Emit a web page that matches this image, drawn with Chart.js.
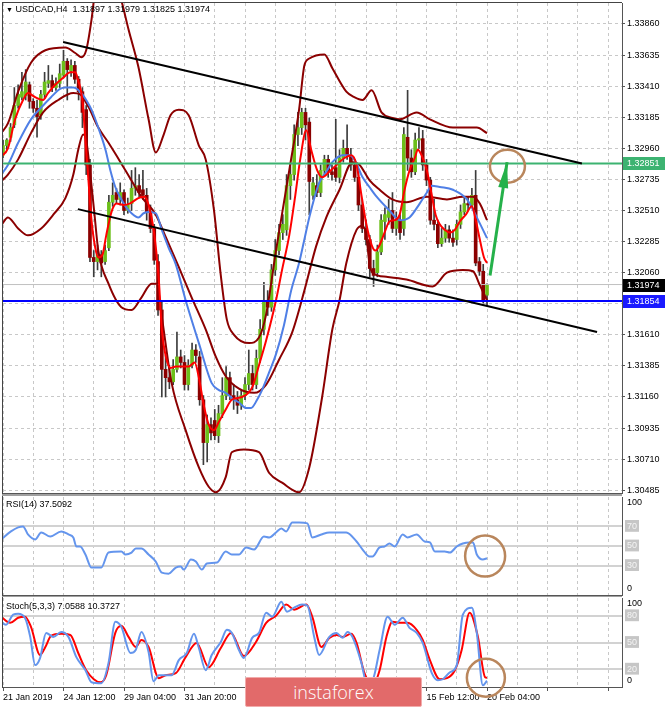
<!DOCTYPE html>
<html>
<head>
<meta charset="utf-8">
<title>USDCAD,H4</title>
<script src="https://cdn.jsdelivr.net/npm/chart.js@4.4.1/dist/chart.umd.min.js"></script>
<style>
  html, body { margin: 0; padding: 0; background: #fff; }
  #wrap { position: relative; width: 665px; height: 708px; overflow: hidden; font-family: "Liberation Sans", Arial, sans-serif; }
  #wrap canvas { position: absolute; left: 0; }
  .rule { position: absolute; }
  .caption { position: absolute; left: 6px; font-size: 9px; line-height: 11px; color: #000; white-space: nowrap; }
  #brand { position: absolute; left: 245px; top: 677px; width: 175px; height: 28px; background: #e26a6a; border: 1px solid #f2abab; border-radius: 2px;
           color: #fff; font: 300 18px "Open Sans", sans-serif; line-height: 28px; text-align: center; }
</style>
</head>
<body>
<div id="wrap">
  <canvas id="mainChart" width="665" height="495" style="top:0"></canvas>
  <canvas id="rsiChart" width="665" height="100" style="top:496px"></canvas>
  <canvas id="stochChart" width="665" height="111" style="top:597px"></canvas>
  <div class="rule" style="left:2px;top:2px;width:620px;height:1px;background:#444"></div>
  <div class="rule" style="left:2px;top:2px;width:1px;height:686px;background:#444"></div>
  <div class="rule" style="left:2px;top:494px;width:620px;height:2px;background:#a0a0a0"></div>
  <div class="rule" style="left:2px;top:596px;width:620px;height:1px;background:#a0a0a0"></div>
  <div class="caption" style="top:4px"><span style="font-size:7px">&#9660;</span> USDCAD,H4&nbsp; 1.31897 1.31979 1.31825 1.31974</div>
  <div class="caption" style="top:499px">RSI(14) 37.5092</div>
  <div class="caption" style="top:601px">Stoch(5,3,3) 7.0588 10.3727</div>
  <div id="brand">instaforex</div>
</div>
<script>
// time axis: one unit = one H4 bar, label every 16 bars
const timeLabels = ['21 Jan 2019', '24 Jan 12:00', '29 Jan 04:00', '31 Jan 20:00', '5 Feb 12:00',
                    '8 Feb 04:00', '12 Feb 20:00', '15 Feb 12:00', '20 Feb 04:00'];
const priceTicks = [1.30485, 1.30710, 1.30935, 1.31160, 1.31385, 1.31610, 1.31835, 1.32060,
                    1.32285, 1.32510, 1.32735, 1.32960, 1.33185, 1.33410, 1.33635, 1.33860];
const hiddenPriceTicks = [1.31835];

const barOpen = [1.3291,1.3298,1.3304,1.3313,1.3327,1.3333,1.3334,1.3342,1.3330,1.3325,
  1.3320,1.3335,1.3343,1.3345,1.3340,1.3343,1.3349,1.3359,1.3352,1.3356,
  1.3346,1.3337,1.3324,1.3284,1.3217,1.3214,1.3219,1.3214,1.3224,1.3257,
  1.3264,1.3259,1.3264,1.3251,1.3256,1.3267,1.3269,1.3266,1.3262,1.3250,
  1.3238,1.3214,1.3179,1.3136,1.3130,1.3127,1.3136,1.3145,1.3141,1.3125,
  1.3139,1.3150,1.3145,1.3114,1.3083,1.3096,1.3099,1.3088,1.3104,1.3117,
  1.3130,1.3117,1.3114,1.3110,1.3117,1.3125,1.3133,1.3125,1.3144,1.3165,
  1.3186,1.3181,1.3208,1.3222,1.3235,1.3237,1.3269,1.3277,1.3306,1.3311,
  1.3322,1.3315,1.3262,1.3269,1.3264,1.3280,1.3288,1.3279,1.3282,1.3275,
  1.3289,1.3296,1.3291,1.3284,1.3275,1.3255,1.3238,1.3230,1.3209,1.3206,
  1.3221,1.3243,1.3246,1.3251,1.3238,1.3244,1.3238,1.3304,1.3289,1.3279,
  1.3302,1.3303,1.3284,1.3273,1.3244,1.3241,1.3227,1.3231,1.3237,1.3231,
  1.3230,1.3241,1.3250,1.3256,1.3255,1.3262,1.3214,1.3207,1.31897];
const barHigh = [1.3302,1.3303,1.3314,1.3340,1.3342,1.3351,1.3353,1.3344,1.3332,1.3331,
  1.3338,1.3351,1.3356,1.3349,1.3347,1.3357,1.3367,1.3361,1.3360,1.3359,
  1.3348,1.3340,1.3327,1.3288,1.3222,1.3226,1.3222,1.3226,1.3262,1.3271,
  1.3267,1.3271,1.3266,1.3260,1.3280,1.3282,1.3277,1.3280,1.3267,1.3255,
  1.3241,1.3219,1.3186,1.3146,1.3139,1.3143,1.3163,1.3150,1.3146,1.3143,
  1.3155,1.3154,1.3149,1.3117,1.3103,1.3101,1.3107,1.3110,1.3130,1.3138,
  1.3134,1.3125,1.3120,1.3121,1.3130,1.3150,1.3139,1.3150,1.3172,1.3199,
  1.3193,1.3212,1.3230,1.3241,1.3248,1.3277,1.3284,1.3313,1.3322,1.3325,
  1.3325,1.3318,1.3275,1.3277,1.3284,1.3291,1.3291,1.3284,1.3317,1.3295,
  1.3302,1.3313,1.3296,1.3288,1.3279,1.3259,1.3244,1.3233,1.3215,1.3226,
  1.3248,1.3253,1.3259,1.3264,1.3250,1.3248,1.3311,1.3338,1.3295,1.3307,
  1.3311,1.3309,1.3288,1.3275,1.3259,1.3244,1.3238,1.3241,1.3240,1.3237,
  1.3244,1.3255,1.3260,1.3261,1.3267,1.3280,1.3217,1.3212,1.31979];
const barLow = [1.3289,1.3295,1.3301,1.3311,1.3325,1.3331,1.3331,1.3325,1.3322,1.3304,
  1.3317,1.3332,1.3340,1.3337,1.3338,1.3340,1.3347,1.3331,1.3348,1.3343,
  1.3331,1.3311,1.3277,1.3214,1.3203,1.3208,1.3203,1.3212,1.3222,1.3254,
  1.3256,1.3255,1.3248,1.3249,1.3251,1.3262,1.3261,1.3259,1.3244,1.3235,
  1.3212,1.3175,1.3116,1.3116,1.3122,1.3125,1.3134,1.3137,1.3121,1.3121,
  1.3137,1.3141,1.3110,1.3067,1.3069,1.3085,1.3085,1.3083,1.3101,1.3114,
  1.3114,1.3107,1.3104,1.3107,1.3114,1.3121,1.3121,1.3122,1.3141,1.3161,
  1.3175,1.3178,1.3204,1.3219,1.3230,1.3233,1.3259,1.3273,1.3298,1.3306,
  1.3302,1.3248,1.3259,1.3261,1.3261,1.3277,1.3275,1.3273,1.3272,1.3271,
  1.3286,1.3288,1.3280,1.3272,1.3251,1.3235,1.3226,1.3203,1.3196,1.3203,
  1.3219,1.3230,1.3241,1.3235,1.3233,1.3230,1.3233,1.3280,1.3275,1.3277,
  1.3296,1.3280,1.3269,1.3241,1.3237,1.3224,1.3225,1.3228,1.3228,1.3225,
  1.3226,1.3238,1.3248,1.3251,1.3253,1.3211,1.3204,1.3184,1.31825];
const barClose = [1.3298,1.3302,1.3311,1.3327,1.3335,1.3337,1.3344,1.3330,1.3325,1.3319,
  1.3335,1.3344,1.3345,1.3340,1.3343,1.3350,1.3359,1.3353,1.3356,1.3346,
  1.3337,1.3322,1.3284,1.3217,1.3214,1.3219,1.3213,1.3222,1.3257,1.3262,
  1.3259,1.3264,1.3251,1.3255,1.3267,1.3269,1.3264,1.3262,1.3250,1.3238,
  1.3215,1.3179,1.3136,1.3130,1.3127,1.3136,1.3145,1.3141,1.3125,1.3139,
  1.3150,1.3146,1.3114,1.3083,1.3096,1.3090,1.3088,1.3104,1.3117,1.3130,
  1.3117,1.3114,1.3110,1.3117,1.3125,1.3133,1.3125,1.3144,1.3165,1.3186,
  1.3181,1.3208,1.3222,1.3235,1.3241,1.3269,1.3277,1.3306,1.3311,1.3322,
  1.3313,1.3272,1.3271,1.3264,1.3280,1.3288,1.3279,1.3277,1.3275,1.3289,
  1.3296,1.3291,1.3284,1.3275,1.3255,1.3238,1.3230,1.3209,1.3204,1.3221,
  1.3244,1.3248,1.3251,1.3238,1.3244,1.3235,1.3306,1.3289,1.3279,1.3302,
  1.3303,1.3284,1.3273,1.3244,1.3241,1.3227,1.3231,1.3237,1.3231,1.3228,
  1.3241,1.3250,1.3256,1.3255,1.3262,1.3213,1.3207,1.3186,1.31974];

// indicator lines as [bar, value]
const maFast = [[-0.5,1.3290],[1.3,1.3296],[3.2,1.3317],[5.3,1.3331],[6.6,1.3336],[8.5,1.3333],[10.6,1.3331],[11.9,1.3336],
  [13.8,1.3342],[15.9,1.3347],[17.8,1.3351],[19.1,1.3351],[19.9,1.3345],[21.0,1.3331],[21.8,1.3302],[22.6,1.3273],
  [23.4,1.3244],[24.4,1.3224],[25.2,1.3217],[26.3,1.3219],[27.3,1.3233],[28.7,1.3250],[30.0,1.3256],[31.9,1.3255],
  [33.5,1.3256],[35.8,1.3260],[37.4,1.3261],[38.5,1.3255],[39.8,1.3238],[41.2,1.3201],[42.0,1.3165],[43.0,1.3146],
  [44.3,1.3137],[45.7,1.3138],[47.3,1.3138],[49.1,1.3138],[50.7,1.3141],[51.8,1.3130],[53.1,1.3110],[54.4,1.3096],
  [55.8,1.3092],[57.1,1.3098],[58.9,1.3107],[60.5,1.3114],[63.2,1.3116],[65.9,1.3123],[67.7,1.3139],[69.6,1.3157],
  [72.2,1.3186],[73.8,1.3208],[75.7,1.3233],[77.3,1.3262],[78.6,1.3288],[80.2,1.3309],[81.5,1.3295],[83.1,1.3280],
  [84.4,1.3275],[86.3,1.3279],[88.2,1.3284],[90.3,1.3289],[92.1,1.3291],[93.5,1.3284],[94.8,1.3262],[96.1,1.3241],
  [97.5,1.3226],[98.5,1.3222],[99.6,1.3226],[100.9,1.3235],[102.2,1.3243],[103.6,1.3244],[104.9,1.3248],[106.2,1.3266],
  [107.5,1.3280],[108.9,1.3289],[109.7,1.3295],[110.7,1.3291],[112.1,1.3280],[113.4,1.3262],[114.4,1.3248],[115.5,1.3241],
  [116.8,1.3237],[118.2,1.3235],[119.5,1.3237],[120.8,1.3243],[122.4,1.3248],[124.0,1.3254],[125.1,1.3243],[126.1,1.3230],
  [127.2,1.3217],[128.0,1.3213]];
const maSlow = [[-0.5,1.3277],[1.3,1.3284],[4.0,1.3300],[7.4,1.3317],[10.6,1.3327],[12.7,1.3333],[15.1,1.3339],[16.5,1.3340],
  [18.6,1.3340],[20.4,1.3337],[22.0,1.3331],[23.4,1.3324],[25.2,1.3311],[27.1,1.3295],[28.4,1.3280],[29.7,1.3268],
  [31.1,1.3260],[32.4,1.3254],[34.0,1.3249],[35.8,1.3246],[37.2,1.3249],[38.5,1.3250],[40.4,1.3249],[42.0,1.3237],
  [43.8,1.3224],[45.7,1.3212],[48.3,1.3186],[51.8,1.3155],[55.2,1.3126],[57.1,1.3121],[58.9,1.3119],[61.1,1.3114],
  [62.4,1.3112],[64.3,1.3108],[65.6,1.3108],[67.2,1.3114],[68.5,1.3121],[70.4,1.3134],[72.2,1.3147],[74.3,1.3168],
  [76.2,1.3193],[78.3,1.3213],[79.7,1.3230],[81.0,1.3246],[83.6,1.3271],[85.5,1.3279],[87.1,1.3286],[89.8,1.3291],
  [91.6,1.3291],[92.9,1.3288],[95.1,1.3275],[96.9,1.3268],[98.8,1.3261],[102.2,1.3251],[104.9,1.3244],[107.5,1.3246],
  [110.2,1.3256],[112.1,1.3264],[113.4,1.3269],[115.5,1.3268],[119.0,1.3266],[122.7,1.3259],[125.3,1.3246],[128.0,1.3231]];
const bandUpper = [[-0.5,1.3307],[1.3,1.3314],[4.0,1.3337],[7.4,1.3358],[11.2,1.3367],[16.5,1.3369],[19.1,1.3365],[20.7,1.3362],
  [22.0,1.3367],[23.4,1.3389],[24.7,1.3418],[26.6,1.3440],[28.7,1.3432],[30.3,1.3411],[31.3,1.3403],[33.2,1.3382],
  [35.8,1.3355],[38.5,1.3317],[40.4,1.3293],[42.5,1.3306],[44.3,1.3320],[46.5,1.3324],[49.1,1.3320],[51.8,1.3298],
  [53.6,1.3288],[55.8,1.3251],[57.6,1.3204],[59.2,1.3172],[61.1,1.3161],[65.1,1.3155],[67.7,1.3159],[69.6,1.3176],
  [72.2,1.3222],[75.7,1.3280],[78.3,1.3324],[79.7,1.3356],[81.0,1.3361],[85.0,1.3364],[87.1,1.3354],[90.8,1.3337],
  [92.9,1.3333],[95.1,1.3331],[97.5,1.3338],[100.1,1.3322],[103.0,1.3318],[104.9,1.3317],[109.4,1.3322],[112.9,1.3317],
  [119.0,1.3311],[125.3,1.3311],[128.0,1.3307]];
const bandMid = [[-0.5,1.3272],[1.3,1.3277],[4.0,1.3288],[7.4,1.3307],[10.6,1.3322],[14.6,1.3331],[18.6,1.3336],[20.4,1.3335],
  [22.6,1.3326],[25.2,1.3311],[27.9,1.3300],[32.4,1.3280],[36.6,1.3261],[40.4,1.3248],[43.0,1.3232],[46.5,1.3210],
  [49.9,1.3188],[53.6,1.3165],[56.3,1.3145],[58.9,1.3131],[62.4,1.3122],[66.4,1.3119],[69.6,1.3125],[73.0,1.3143],
  [76.5,1.3163],[79.7,1.3193],[82.8,1.3225],[85.5,1.3246],[89.0,1.3266],[92.4,1.3286],[94.3,1.3284],[96.9,1.3273],
  [99.6,1.3266],[103.0,1.3259],[106.7,1.3257],[112.1,1.3261],[117.4,1.3259],[121.6,1.3261],[124.3,1.3261],[126.1,1.3256],
  [128.0,1.3244]];
const bandLower = [[-0.5,1.3240],[1.3,1.3246],[4.0,1.3238],[6.6,1.3233],[10.1,1.3238],[13.3,1.3248],[16.5,1.3260],[18.6,1.3277],
  [19.9,1.3295],[21.2,1.3306],[22.0,1.3302],[23.1,1.3277],[24.2,1.3248],[25.2,1.3222],[27.9,1.3198],[31.3,1.3181],
  [34.0,1.3179],[36.6,1.3188],[39.3,1.3198],[40.6,1.3198],[42.0,1.3174],[44.6,1.3126],[48.3,1.3092],[51.8,1.3065],
  [54.4,1.3051],[56.3,1.3047],[58.9,1.3058],[60.5,1.3076],[63.7,1.3078],[67.7,1.3076],[70.4,1.3061],[73.8,1.3054],
  [78.3,1.3047],[81.0,1.3065],[84.4,1.3116],[87.1,1.3165],[89.0,1.3186],[90.8,1.3213],[93.5,1.3237],[95.1,1.3240],
  [96.1,1.3232],[96.9,1.3213],[97.7,1.3206],[101.4,1.3203],[106.7,1.3201],[113.6,1.3196],[117.4,1.3206],[121.6,1.3208],
  [124.3,1.3207],[126.1,1.3197],[128.0,1.3186]];

const trendUpper = [[15.9,1.3373],[153.1,1.3285]];
const trendLower = [[19.8,1.3252],[157.1,1.3163]];
const levelGreen = 1.32851;
const levelBid = 1.31974;
const levelBlue = 1.31854;
const arrowFrom = [128.8, 1.3204];
const arrowTo = [133.3, 1.3286];
const ringMain = [133.4, 1.3283];

const rsiLevels = [30, 50, 70];
const rsiLine = [[-0.5,56.7],[2.1,64.9],[4.0,69.0],[5.3,70.0],[6.6,61.8],[8.5,56.7],[10.1,63.8],[12.5,59.7],[15.4,64.9],
  [17.3,61.8],[18.6,58.7],[19.4,49.5],[20.4,49.5],[21.8,41.3],[23.4,28.0],[26.0,28.0],[27.9,43.3],[31.3,44.4],[32.4,41.3],
  [34.0,43.3],[35.1,47.4],[36.6,47.4],[38.5,41.3],[40.4,34.1],[42.0,22.8],[43.8,21.8],[45.7,28.0],[47.0,29.0],[47.8,25.9],
  [49.7,36.2],[51.0,34.1],[52.6,25.9],[53.9,32.1],[56.6,33.1],[58.9,44.4],[60.5,41.3],[62.4,41.3],[64.3,48.5],[66.4,46.4],
  [69.0,59.7],[70.4,58.7],[72.2,63.8],[73.6,67.9],[74.9,64.9],[76.5,74.1],[78.3,74.1],[80.5,73.1],[81.8,58.7],[84.2,61.8],
  [86.3,63.8],[89.0,63.8],[90.8,63.8],[93.5,54.6],[95.1,46.4],[96.9,39.2],[97.7,39.2],[99.6,48.5],[100.9,49.5],[102.2,52.6],
  [103.6,49.5],[105.7,61.8],[107.0,58.7],[109.4,61.8],[111.5,54.6],[112.9,53.6],[114.2,44.4],[116.8,44.4],[118.2,43.3],
  [120.0,49.5],[121.6,52.6],[123.4,53.6],[124.3,53.6],[125.3,41.3],[126.9,36.2],[128.0,37.5]];
const ringRsi = [127.5, 39.7];

const stochLevels = [20, 50, 80];
const stochMain = [[-0.5,73.3],[0.8,69.9],[2.7,81.2],[4.0,82.3],[5.8,77.8],[7.2,56.3],[8.5,24.6],[9.8,32.5],[11.4,60.8],
  [13.3,56.3],[15.4,61.9],[17.3,56.3],[19.4,33.6],[21.8,18.9],[23.4,5.3],[26.0,4.2],[27.9,26.8],[29.7,73.3],[31.3,67.6],
  [33.7,38.2],[35.1,41.6],[36.6,61.9],[38.5,39.3],[39.8,6.5],[41.2,13.2],[44.6,13.2],[46.5,30.2],[48.6,38.2],[50.5,59.7],
  [51.8,43.8],[53.6,18.9],[55.2,35.9],[57.6,50.6],[59.2,64.2],[60.5,60.8],[62.4,41.6],[63.7,32.5],[65.9,55.2],[67.7,60.8],
  [69.6,83.5],[71.2,78.9],[73.6,95.9],[75.1,84.6],[77.0,89.1],[79.1,92.6],[80.5,91.4],[82.3,56.3],[83.6,35.9],[86.3,56.3],
  [88.2,60.8],[89.8,55.2],[91.1,61.9],[92.4,56.3],[94.8,26.8],[96.1,5.3],[97.7,7.6],[99.6,41.6],[101.7,78.9],[103.6,69.9],
  [105.7,77.8],[107.5,66.5],[109.4,60.8],[111.0,49.5],[113.4,15.5],[115.0,7.6],[116.3,8.7],[118.2,16.6],[120.0,24.6],
  [121.6,81.2],[124.0,89.1],[125.3,60.8],[126.9,1.9],[128.0,7.06]];
const stochSignal = [[-0.5,78.9],[1.9,72.1],[4.0,77.8],[5.8,78.9],[7.4,67.6],[9.8,35.9],[11.2,45.0],[12.7,57.4],[15.4,59.7],
  [17.8,58.5],[19.9,38.2],[22.0,18.9],[25.8,5.3],[27.3,13.2],[29.7,60.8],[31.3,68.7],[33.2,56.3],[35.1,45.0],[36.6,52.9],
  [38.5,45.0],[41.2,9.9],[43.0,13.2],[45.7,15.5],[48.3,33.6],[51.2,49.5],[54.4,22.3],[57.6,43.8],[60.3,60.8],[63.7,34.8],
  [66.9,50.6],[69.6,72.1],[72.2,80.1],[74.9,92.6],[77.0,86.9],[80.2,92.6],[81.8,78.9],[84.2,45.0],[86.3,55.2],[88.2,58.5],
  [89.8,56.3],[92.1,59.7],[93.5,49.5],[95.6,15.5],[97.7,1.9],[99.6,18.9],[101.4,56.3],[103.0,73.3],[104.9,72.1],[107.0,72.1],
  [109.4,64.2],[111.0,52.9],[112.9,30.2],[115.5,8.7],[117.4,9.9],[119.5,18.9],[121.3,41.6],[123.4,83.5],[125.6,56.3],
  [127.5,11.0],[128.0,10.37]];
const ringStoch = [127.7, 10.4];

const xMax = 163.7;
const gridStep = 8;

Chart.defaults.font.family = '"Liberation Sans", Arial, sans-serif';
Chart.defaults.font.size = 9;
Chart.defaults.color = '#000';
Chart.defaults.animation = false;
Chart.defaults.events = [];
Chart.defaults.plugins.legend.display = false;
Chart.defaults.plugins.tooltip.enabled = false;

const pts = (pairs) => pairs.map(([x, y]) => ({x, y}));
const lineSet = (pairs, color, width, order) => ({
  type: 'line', data: pts(pairs), borderColor: color, borderWidth: width,
  pointRadius: 0, cubicInterpolationMode: 'monotone', order
});
const flat = (v) => [[0, v], [xMax, v]];

// keep the plot area exactly where the layout padding puts it
const noEdgePadding = (axis) => {
  axis.paddingTop = 0; axis.paddingBottom = 0; axis.paddingLeft = 0; axis.paddingRight = 0;
};

function timeAxis(showLabels) {
  return {
    type: 'linear', min: 0, max: xMax, offset: false,
    afterBuildTicks: (axis) => {
      axis.ticks = [];
      for (let v = 0; v <= xMax; v += gridStep) axis.ticks.push({value: v});
    },
    grid: { color: '#c8c8c8', offset: false, drawTicks: showLabels, tickLength: 4, tickBorderDash: [],
            tickColor: (c) => (c.index % 2 === 0 ? '#555' : 'rgba(0,0,0,0)') },
    border: { display: true, color: '#555', dash: [3, 3] },
    ticks: { display: showLabels, autoSkip: false, maxRotation: 0, align: 'start', padding: 1,
             callback: (v, i) => (i % 2 === 0 ? (timeLabels[i / 2] || '') : '') },
    afterFit: (axis) => { axis.height = showLabels ? 21 : 0; noEdgePadding(axis); }
  };
}

function oscAxis(levels) {
  const isLevel = (c) => !!c.tick && levels.includes(c.tick.value);
  return {
    position: 'right', min: 0, max: 100,
    afterBuildTicks: (axis) => { axis.ticks = [0, ...levels, 100].map(v => ({value: v})); },
    grid: { drawTicks: false, lineWidth: 2, color: (c) => (isLevel(c) ? '#d2d2d2' : 'rgba(0,0,0,0)') },
    border: { display: true, color: '#555' },
    ticks: { padding: 5, color: '#f4f4f4', callback: (v) => (levels.includes(v) ? String(v) : ''),
             showLabelBackdrop: isLevel, backdropColor: '#c6c6c6',
             backdropPadding: { top: 1, bottom: 0, left: 2, right: 2 } },
    afterFit: (axis) => { axis.width = 43; noEdgePadding(axis); }
  };
}

const ringPlugin = {
  id: 'ring',
  afterDatasetsDraw(chart, args, opts) {
    if (!opts.at) return;
    const {ctx, scales: {x, y}} = chart;
    ctx.save();
    ctx.strokeStyle = '#b9865c';
    ctx.lineWidth = 2.5;
    ctx.beginPath();
    ctx.ellipse(x.getPixelForValue(opts.at[0]), y.getPixelForValue(opts.at[1]), opts.rx, opts.ry, 0, 0, Math.PI * 2);
    ctx.stroke();
    ctx.restore();
  }
};

const arrowHead = {
  id: 'arrowHead',
  afterDatasetsDraw(chart) {
    const {ctx, scales: {x, y}} = chart;
    const x0 = x.getPixelForValue(arrowFrom[0]), y0 = y.getPixelForValue(arrowFrom[1]);
    const x1 = x.getPixelForValue(arrowTo[0]), y1 = y.getPixelForValue(arrowTo[1]);
    const a = Math.atan2(y1 - y0, x1 - x0);
    const bx = x1 - 26 * Math.cos(a), by = y1 - 26 * Math.sin(a);
    ctx.save();
    ctx.fillStyle = '#25b14a';
    ctx.beginPath();
    ctx.moveTo(x1, y1);
    ctx.lineTo(bx + 5 * Math.sin(a), by - 5 * Math.cos(a));
    ctx.lineTo(bx - 5 * Math.sin(a), by + 5 * Math.cos(a));
    ctx.closePath();
    ctx.fill();
    ctx.restore();
  }
};

const priceTags = {
  id: 'priceTags',
  afterDraw(chart) {
    const {ctx, chartArea, scales: {y}} = chart;
    const tags = [[levelGreen, '#3cb371'], [levelBid, '#000'], [levelBlue, '#1a1aff']];
    ctx.save();
    ctx.font = '9px "Liberation Sans", Arial, sans-serif';
    ctx.textBaseline = 'middle';
    tags.forEach(([v, bg]) => {
      const py = Math.round(y.getPixelForValue(v));
      ctx.fillStyle = bg;
      ctx.fillRect(chartArea.right + 1, py - 6, 42, 13);
      ctx.fillStyle = '#fff';
      ctx.fillText(v.toFixed(5), chartArea.right + 5, py + 1);
    });
    ctx.restore();
  }
};

const edgeLabels = {
  id: 'edgeLabels',
  afterDraw(chart) {
    const {ctx, chartArea} = chart;
    ctx.save();
    ctx.fillStyle = '#000';
    ctx.font = '9px "Liberation Sans", Arial, sans-serif';
    ctx.textBaseline = 'middle';
    ctx.fillText('100', chartArea.right + 5, chartArea.top + 6);
    ctx.fillText('0', chartArea.right + 5, chartArea.bottom - 6);
    ctx.restore();
  }
};

const bars = barOpen.map((o, i) => i);
const wickData = bars.map(i => ({x: i, y: [barLow[i], barHigh[i]]}));
const bodyData = bars.map(i => ({x: i, y: [barOpen[i], barClose[i]]}));
const bodyColors = bars.map(i => (barClose[i] >= barOpen[i] ? '#6cbf1a' : '#8b0000'));

new Chart(document.getElementById('mainChart'), {
  type: 'bar',
  data: {
    datasets: [
      lineSet([arrowFrom, arrowTo], '#25b14a', 3, 0),
      lineSet(trendUpper, '#000', 2, 1),
      lineSet(trendLower, '#000', 2, 1),
      lineSet(flat(levelGreen), '#3cb371', 2, 2),
      lineSet(flat(levelBlue), '#0000ff', 2, 2),
      lineSet(maFast, '#ff0000', 2, 3),
      lineSet(maSlow, '#4f7fe6', 2, 4),
      lineSet(bandUpper, '#8b0000', 2, 5),
      lineSet(bandMid, '#8b0000', 2, 5),
      lineSet(bandLower, '#8b0000', 2, 5),
      lineSet(flat(levelBid), '#c0c0c0', 1, 7),
      { type: 'bar', data: bodyData, backgroundColor: bodyColors, grouped: false, barPercentage: 1,
        categoryPercentage: 1, maxBarThickness: 3, minBarLength: 1, order: 8 },
      { type: 'bar', data: wickData, backgroundColor: '#3c3c3c', grouped: false, barPercentage: 1,
        categoryPercentage: 1, maxBarThickness: 1, order: 9 }
    ]
  },
  options: {
    responsive: false,
    layout: { padding: { left: 3, top: 3, right: 0, bottom: 2 } },
    scales: {
      x: timeAxis(false),
      y: {
        position: 'right', min: 1.30465, max: 1.34012,
        afterBuildTicks: (axis) => { axis.ticks = priceTicks.map(v => ({value: v})); },
        grid: { color: '#c8c8c8', tickLength: 3, tickColor: '#555', tickBorderDash: [] },
        border: { display: true, color: '#555', dash: [3, 3] },
        ticks: { padding: 2, callback: (v) => (hiddenPriceTicks.some(h => Math.abs(h - v) < 1e-7) ? '' : v.toFixed(5)) },
        afterFit: (axis) => { axis.width = 43; noEdgePadding(axis); }
      }
    },
    plugins: { ring: { at: ringMain, rx: 17.5, ry: 16.5 } }
  },
  plugins: [ringPlugin, arrowHead, priceTags]
});

new Chart(document.getElementById('rsiChart'), {
  type: 'line',
  data: { datasets: [lineSet(rsiLine, '#6495ed', 2, 0)] },
  options: {
    responsive: false,
    layout: { padding: { left: 3, top: 1, right: 0, bottom: 1 } },
    scales: { x: timeAxis(false), y: oscAxis(rsiLevels) },
    plugins: { ring: { at: ringRsi, rx: 20, ry: 20.5 } }
  },
  plugins: [ringPlugin, edgeLabels]
});

new Chart(document.getElementById('stochChart'), {
  type: 'line',
  data: {
    datasets: [
      lineSet(stochSignal, '#ff0000', 2, 1),
      lineSet(stochMain, '#6495ed', 2, 0)
    ]
  },
  options: {
    responsive: false,
    layout: { padding: { left: 3, top: 1, right: 0, bottom: 0 } },
    scales: { x: timeAxis(true), y: oscAxis(stochLevels) },
    plugins: { ring: { at: ringStoch, rx: 19, ry: 19 } }
  },
  plugins: [ringPlugin, edgeLabels]
});
</script>
</body>
</html>
